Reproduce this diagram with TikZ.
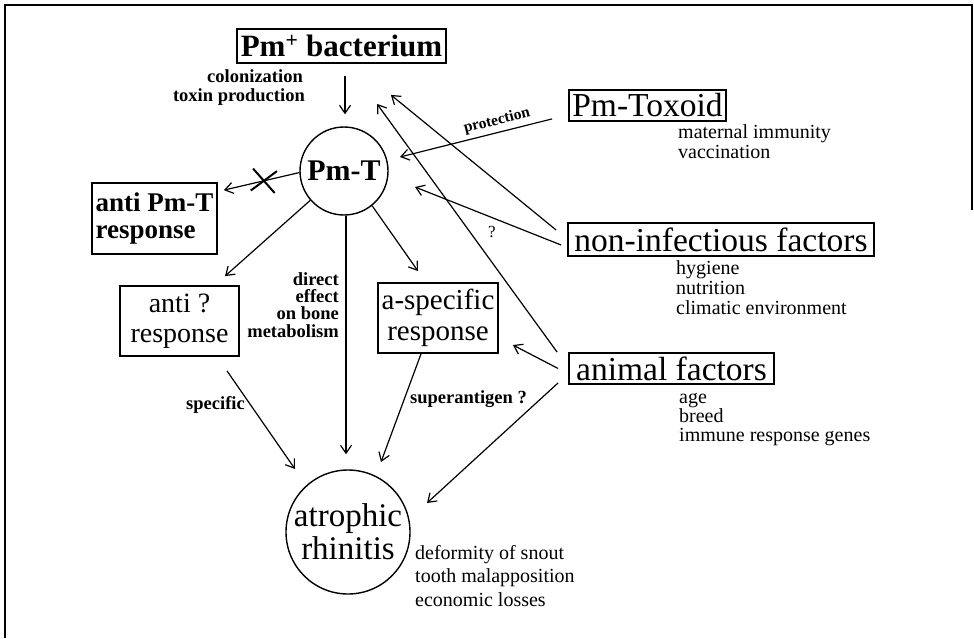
\documentclass[tikz,border=0pt]{standalone}
\usepackage{fontspec}
\setmainfont{Liberation Serif}
\usetikzlibrary{arrows.meta,calc,shapes.misc}
\begin{document}
\begin{tikzpicture}[x=1pt,y=-1pt,
  arr/.style={-{Straight Barb[length=8pt,width=11pt,line width=1.2pt]}, line width=1.2pt},
  boxnode/.style={draw, line width=1.8pt, inner sep=0pt, align=center},
  circ/.style={draw, circle, line width=1.4pt, inner sep=0pt, align=center},
  bigfont/.style={font=\fontsize{33.5}{33}\selectfont},
  lbl/.style={inner sep=0pt, font=\fontsize{20}{20}\selectfont},
  blbl/.style={inner sep=0pt, font=\bfseries\fontsize{18.5}{17}\selectfont},
]
\useasboundingbox (0,0) rectangle (974,638);
\draw[line width=1.5pt] (5,638) -- (5,5) -- (972,5) -- (972,210);

% main nodes
\node[boxnode, minimum width=209pt, minimum height=34pt, font=\bfseries\fontsize{31}{31}\selectfont] (bact) at (341.5,46) {Pm\textsuperscript{+} bacterium};
\node[circ, minimum size=88pt, font=\bfseries\fontsize{30}{30}\selectfont] (pmt) at (344,171) {Pm-T};
\node[boxnode, align=left, minimum width=125pt, minimum height=71pt, font=\bfseries\fontsize{27}{27}\selectfont] (antipmt) at (154.5,218.5) {anti Pm-T\\response};
\node[boxnode, minimum width=119pt, minimum height=70pt, font=\fontsize{28}{30}\selectfont] (antiq) at (179.5,321) {anti ?\\response};
\node[boxnode, minimum width=120pt, minimum height=70pt, font=\fontsize{29}{31}\selectfont] (aspec) at (438,318) {a-specific\\response};
\node[circ, minimum size=124pt, font=\fontsize{33}{33}\selectfont] (ar) at (348,532) {atrophic\\rhinitis};
\node[boxnode, bigfont, minimum width=157pt, minimum height=31pt] (tox) at (647.5,105.5) {Pm-Toxoid};
\node[boxnode, bigfont, minimum width=306pt, minimum height=33pt] (noninf) at (721,239.5) {non-infectious factors};
\node[boxnode, bigfont, minimum width=205pt, minimum height=31pt] (animal) at (671.5,368.5) {animal factors};

% text labels
\node[blbl, anchor=base east] (col1) at (303,82) {colonization};
\node[blbl, anchor=base east] (col2) at (305,101) {toxin production};
\node[lbl, anchor=base west] (tx1) at (678,138) {maternal immunity};
\node[lbl, anchor=base west] (tx2) at (678,158) {vaccination};
\node[lbl, anchor=base west] (ni1) at (676,274) {hygiene};
\node[lbl, anchor=base west] (ni2) at (676,294) {nutrition};
\node[lbl, anchor=base west] (ni3) at (676,314) {climatic environment};
\node[lbl, anchor=base west] (an1) at (679,403) {age};
\node[lbl, anchor=base west] (an2) at (679,422) {breed};
\node[lbl, anchor=base west] (an3) at (679,441) {immune response genes};
\node[lbl, anchor=base west] (ar1) at (415,559) {deformity of snout};
\node[lbl, anchor=base west] (ar2) at (415,582) {tooth malapposition};
\node[lbl, anchor=base west] (ar3) at (415,606) {economic losses};
\node[blbl, anchor=base east] (de1) at (339,285) {direct};
\node[blbl, anchor=base east] (de2) at (339,302) {effect};
\node[blbl, anchor=base east] (de3) at (339,319) {on bone};
\node[blbl, anchor=base east] (de4) at (339,337) {metabolism};
\node[blbl, anchor=base east] (spec) at (245,409) {specific};
\node[blbl, anchor=base west] (sup) at (410,403) {superantigen ?};
\node[inner sep=0pt, font=\bfseries\fontsize{15.5}{16}\selectfont, rotate=14.3] (prot) at (497,121) {protection};
\node[inner sep=0pt, anchor=base, font=\fontsize{17}{17}\selectfont] (qm) at (492,237) {?};

% connectors
\draw[arr] ($(bact.south)+(3.5,12)$) -- ($(pmt.north)+(1,-12)$);
\draw[arr] (pmt.182) -- ($(antipmt.north east)+(6,8)$)
  node[pos=0.47, cross out, draw, line width=2pt, minimum width=22pt, minimum height=20pt, inner sep=0pt, rotate=-6] (xm) {};
\draw[arr] (pmt.221) -- ($(antiq.north)+(45.5,-9)$);
\draw[arr] ($(pmt.south)+(2,0)$) -- ($(ar.north)+(-2,-15)$);
\draw[arr] (pmt.309) -- ($(aspec.north)+(-20,-11)$);
\draw[arr] ($(antiq.south)+(47.5,14)$) -- ($(ar.center)+(-53,-63)$);
\draw[arr] ($(aspec.south)+(-17,0)$) -- ($(ar.center)+(33,-70)$);
\draw[arr] ($(tox.south west)+(-16,-3)$) -- ($(pmt.center)+(56,-14)$);
\draw[arr] ($(noninf.west)+(-11,-9.5)$) -- ($(bact.south east)+(-56,31)$);
\draw[arr] ($(noninf.west)+(-6,5.5)$) -- ($(pmt.center)+(71,16)$);
\draw[arr] ($(animal.north west)+(-11,0)$) -- ($(bact.south)+(35.5,40)$);
\draw[arr] ($(animal.west)+(-10,0)$) -- ($(aspec.east)+(14,27)$);
\draw[arr] ($(animal.south west)+(-10,-2)$) -- ($(ar.center)+(79,-29)$);
\end{tikzpicture}
\end{document}
